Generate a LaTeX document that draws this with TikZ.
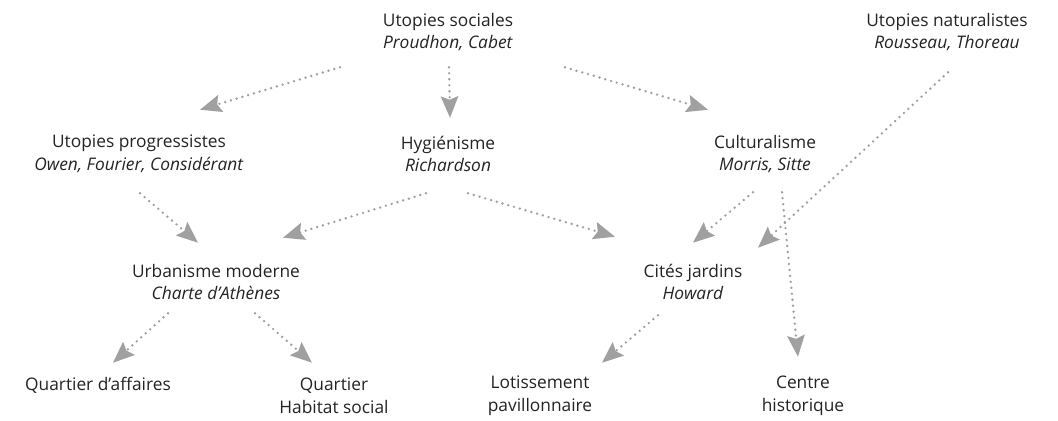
\documentclass[tikz,border=0pt]{standalone}
\usepackage{fontspec}
\setmainfont{Open Sans}
\usetikzlibrary{arrows.meta,positioning}

\definecolor{arrowgray}{RGB}{160,160,160}
\definecolor{textgray}{RGB}{35,35,35}

\begin{document}
\begin{tikzpicture}[>={Stealth[length=16pt,width=13pt,inset=2.5pt]},
                    node distance=3cm,on grid]
    \tikzset{
      idea/.style={
        align=center,
        minimum height=57pt,
        inner sep=0pt,
        text=textgray,
        font=\fontsize{13}{17}\selectfont
      },
      flow/.style={
        draw,
        ->,
        color=arrowgray,
        line width=2pt,
        line cap=round,
        dash pattern=on 0pt off 4.5pt
      }
    }
    \useasboundingbox (0,0) rectangle (793.5pt,-315.75pt);

    % Utopies
    \node [idea] (sociales) at (336pt,-24pt) {Utopies sociales\\\textit{Proudhon, Cabet}};
    \node [idea] (naturalistes)  [right=374.25pt of sociales] {Utopies naturalistes\\\textit{Rousseau, Thoreau}};
    \node [idea] (progressistes) [below left=91.5pt and 231.75pt of sociales] {Utopies progressistes\\\textit{Owen, Fourier, Considérant}};
    \node [idea] (hygienisme)    [below=91.5pt of sociales] {Hygiénisme\\\textit{Richardson}};
    \node [idea] (culturalisme)  [below right=91.5pt and 237.75pt of sociales] {Culturalisme\\\textit{Morris, Sitte}};

    % Modeles
    \node [idea] (urbanisme) [below right=96pt and 57.75pt of progressistes] {Urbanisme moderne\\\textit{Charte d’Athènes}};
    \node [idea] (cites)     [below left=96pt and 54pt of culturalisme] {Cités jardins\\\textit{Howard}};

    % Formes urbaines
    \node [idea] (affaires)    [below left=77.25pt and 88.5pt of urbanisme] {Quartier d’affaires};
    \node [idea] (habitat)     [below right=85.5pt and 88.5pt of urbanisme] {Quartier\\Habitat social};
    \node [idea] (lotissement) [below left=85.5pt and 114.75pt of cites] {Lotissement\\pavillonnaire};
    \node [idea] (centre)      [below right=85.5pt and 82.5pt of cites] {Centre\\historique};

    % Filiations
    \path[every edge/.style={flow}]
        ([xshift=-81pt,yshift=2.25pt]sociales.south)   edge ([xshift=45.75pt,yshift=4.5pt]progressistes.north)
        ([xshift=0.75pt,yshift=2.25pt]sociales.south)  edge ([xshift=1.5pt,yshift=-1.5pt]hygienisme.north)
        ([xshift=87.75pt,yshift=2.25pt]sociales.south) edge ([xshift=-42.75pt,yshift=4.5pt]culturalisme.north)
        ([xshift=0.75pt,yshift=-1.5pt]naturalistes.south) edge ([xshift=48.75pt,yshift=-3pt]cites.north);

    \path[every edge/.style={flow}]
        ([xshift=-9pt]culturalisme.south)    edge ([yshift=0.75pt]cites.north)
        ([xshift=12.75pt]culturalisme.south) edge ([xshift=-3.75pt,yshift=0.75pt]centre.north)
        ([xshift=15pt,yshift=-0.75pt]hygienisme.south)   edge ([xshift=-58.5pt,yshift=5.25pt]cites.north)
        ([xshift=-16.5pt,yshift=-0.75pt]hygienisme.south) edge ([xshift=50.25pt,yshift=4.5pt]urbanisme.north)
        ([xshift=0.75pt,yshift=-0.75pt]progressistes.south) edge ([xshift=-13.5pt,yshift=0.75pt]urbanisme.north);

    \path[every edge/.style={flow}]
        ([xshift=-36pt,yshift=5.25pt]urbanisme.south)  edge ([xshift=11.25pt,yshift=-12pt]affaires.north)
        ([xshift=29.25pt,yshift=5.25pt]urbanisme.south) edge ([xshift=-16.5pt,yshift=-3.75pt]habitat.north)
        ([xshift=-26.25pt,yshift=3.75pt]cites.south)    edge ([xshift=46.5pt,yshift=-3.75pt]lotissement.north);
\end{tikzpicture}
\end{document}
